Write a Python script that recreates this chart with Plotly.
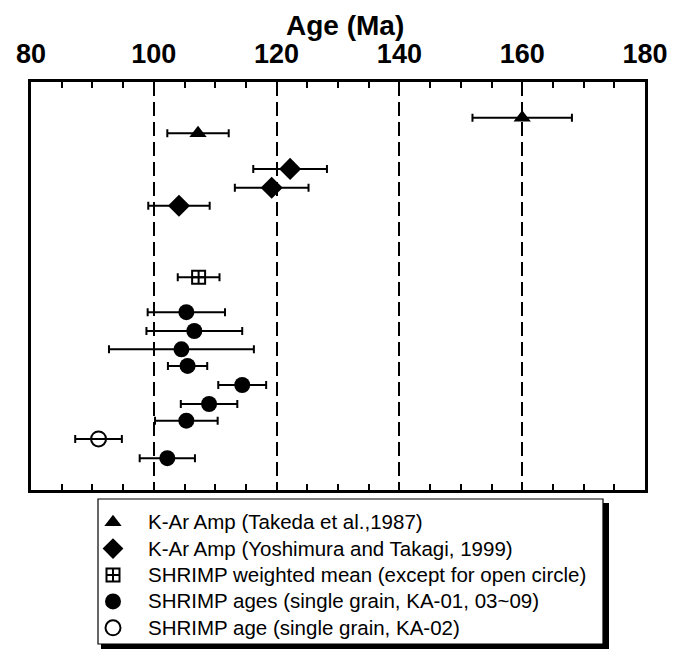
import plotly.graph_objects as go

# ---- data (ages in Ma, 2-sigma errors) and row positions (top = 0) ----
tri_age = [160.0, 107.2]
tri_err = [8.1, 5.0]
tri_row = [1.95, 2.80]

dia_age = [122.2, 119.2, 104.1]
dia_err = [6.0, 6.0, 5.0]
dia_row = [4.75, 5.78, 6.76]

sq_age = [107.3]
sq_err = [3.4]
sq_row = [10.67]

circ_age = [105.3, 106.6, 104.5, 105.5, 114.4, 109.0, 105.3, 102.2]
circ_err = [6.3, 7.8, 11.8, 3.2, 3.9, 4.6, 5.1, 4.5]
circ_row = [12.58, 13.61, 14.61, 15.52, 16.56, 17.60, 18.51, 20.56]

open_age = [91.0]
open_err = [3.8]
open_row = [19.51]

x_ticks = [80, 100, 120, 140, 160, 180]

labels = [
    "K-Ar Amp (Takeda et al.,1987)",
    "K-Ar Amp (Yoshimura and Takagi, 1999)",
    "SHRIMP weighted mean (except for open circle)",
    "SHRIMP ages (single grain, KA-01, 03~09)",
    "SHRIMP age (single grain, KA-02)",
]

# page body has an 8px margin, so the figure is 8px smaller and shifted
OFF = 8
W, H = 677 - OFF, 650 - OFF
# plot area in page pixels: x 31..645, y 82..490
PX0, PX1, PY0, PY1 = 31, 645, 82, 490
L, T = PX0 - OFF, PY0 - OFF
R, B = W - (PX1 - OFF), H - (PY1 - OFF)
pw, ph = PX1 - PX0, PY1 - PY0


def px2paper(x, y):
    return (x - PX0) / pw, (PY1 - y) / ph


def ebar(arr):
    return dict(type="data", array=arr, visible=True, color="black",
                thickness=2, width=4)


def leg(s):
    return f"<span style='font-size:20.5px'>{s}</span>"


fig = go.Figure()
fig.add_trace(go.Scatter(x=tri_age, y=tri_row, mode="markers", name=leg(labels[0]),
                         error_x=ebar(tri_err),
                         marker=dict(symbol="triangle-up", size=15, color="black")))
fig.add_trace(go.Scatter(x=dia_age, y=dia_row, mode="markers", name=leg(labels[1]),
                         error_x=ebar(dia_err),
                         marker=dict(symbol="diamond", size=17, color="black")))
fig.add_trace(go.Scatter(x=sq_age, y=sq_row, mode="markers", name=leg(labels[2]),
                         error_x=ebar(sq_err),
                         marker=dict(symbol="square-cross-open", size=13, color="black",
                                     line=dict(width=2, color="black"))))
fig.add_trace(go.Scatter(x=circ_age, y=circ_row, mode="markers", name=leg(labels[3]),
                         error_x=ebar(circ_err),
                         marker=dict(symbol="circle", size=16, color="black")))
fig.add_trace(go.Scatter(x=open_age, y=open_row, mode="markers", name=leg(labels[4]),
                         error_x=ebar(open_err),
                         marker=dict(symbol="circle-open", size=15, color="black",
                                     line=dict(width=2, color="black"))))

# legend frame with drop shadow
sx0, sy0 = px2paper(101, 649)
sx1, sy1 = px2paper(609, 503)
fig.add_shape(type="rect", xref="paper", yref="paper", x0=sx0, y0=sy0, x1=sx1, y1=sy1,
              fillcolor="black", line=dict(width=0), layer="below")
bx0, by0 = px2paper(98, 644)
bx1, by1 = px2paper(603, 499)
fig.add_shape(type="rect", xref="paper", yref="paper", x0=bx0, y0=by0, x1=bx1, y1=by1,
              fillcolor="white", line=dict(width=1.2, color="black"), layer="below")

tx, ty = px2paper(345, 25)
fig.add_annotation(text="<b>Age (Ma)</b>", xref="paper", yref="paper", x=tx, y=ty,
                   showarrow=False, xanchor="center", yanchor="middle",
                   font=dict(family="Liberation Sans, Arial", size=28, color="black"))

lx, ly = px2paper(78, 504)
fig.update_layout(
    width=W, height=H,
    margin=dict(l=L, r=R, t=T, b=B, autoexpand=False),
    paper_bgcolor="white", plot_bgcolor="white",
    font=dict(family="Liberation Sans, Arial", color="black"),
    legend=dict(x=lx, y=ly, xanchor="left", yanchor="top",
                bgcolor="rgba(0,0,0,0)", borderwidth=0,
                font=dict(size=18, family="Liberation Sans, Arial", color="black"),
                itemwidth=60, tracegroupgap=0),
    showlegend=True,
)
fig.update_xaxes(
    range=[80, 180], side="top", tickvals=x_ticks,
    ticktext=[f"<b>{v}</b>" for v in x_ticks],
    tickfont=dict(size=27, family="Liberation Sans, Arial", color="black"),
    ticks="inside", ticklen=6, tickwidth=2, tickcolor="black",
    ticklabelstandoff=5, automargin=False,
    minor=dict(dtick=5, ticks="inside", ticklen=6, tickwidth=2, tickcolor="black",
               showgrid=False),
    showgrid=True, gridcolor="black", gridwidth=2, griddash="14px,6px",
    showline=True, linecolor="black", linewidth=3, mirror="allticks",
    zeroline=False, fixedrange=True,
)
fig.update_yaxes(
    range=[22.3, 0], showticklabels=False, ticks="", showgrid=False,
    showline=True, linecolor="black", linewidth=3, mirror=True, zeroline=False,
    automargin=False,
)

fig.write_html("out.html")
